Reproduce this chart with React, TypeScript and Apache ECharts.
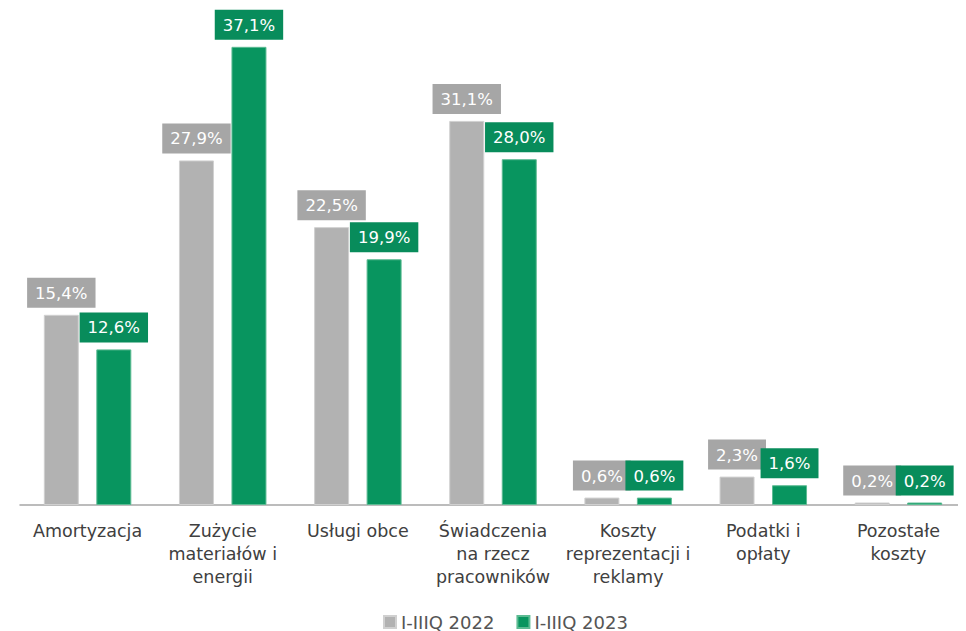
import React, { useEffect, useRef } from "react";
import * as echarts from "echarts";

const categories = [
  "Amortyzacja",
  "Zużycie\nmateriałów i\nenergii",
  "Usługi obce",
  "Świadczenia\nna rzecz\npracowników",
  "Koszty\nreprezentacji i\nreklamy",
  "Podatki i\nopłaty",
  "Pozostałe\nkoszty",
];
const series2022 = [15.4, 27.9, 22.5, 31.1, 0.6, 2.3, 0.2];
const series2023 = [12.6, 37.1, 19.9, 28.0, 0.6, 1.6, 0.2];
const seriesNames = ["I-IIIQ 2022", "I-IIIQ 2023"];

const FONT = "DejaVu Sans";

export default function App() {
  const ref = useRef<HTMLDivElement>(null);
  useEffect(() => {
    if (!ref.current) return;
    const chart = echarts.init(ref.current, null, { renderer: "svg" });
    const fmt = (p: any) => p.value.toFixed(1).replace(".", ",") + "%";
    const mkLabel = (bg: string) => ({
      show: true,
      position: "top",
      distance: 7,
      formatter: fmt,
      color: "#ffffff",
      fontFamily: FONT,
      fontSize: 16.5,
      backgroundColor: bg,
      padding: [7, 8, 6, 8],
    });
    chart.setOption({
      animation: false,
      textStyle: { fontFamily: FONT },
      grid: { left: 12, right: -8, top: 3, bottom: 126, containLabel: false },
      legend: {
        bottom: -5,
        left: 370,
        itemWidth: 12,
        itemHeight: 12,
        itemGap: 22,
        icon: "rect",
        textStyle: { fontFamily: FONT, fontSize: 18, color: "#555555" },
        data: seriesNames,
      },
      xAxis: {
        type: "category",
        data: categories,
        axisTick: { show: false },
        axisLine: { lineStyle: { color: "#a6a6a6", width: 1.5 } },
        axisLabel: {
          interval: 0,
          color: "#404040",
          fontFamily: FONT,
          fontSize: 17.5,
          lineHeight: 23,
          margin: 14,
        },
      },
      yAxis: {
        type: "value",
        min: 0,
        max: 40,
        show: false,
        splitLine: { show: false },
      },
      series: [
        {
          name: seriesNames[0],
          type: "bar",
          data: series2022,
          barWidth: 35,
          barGap: "50%",
          itemStyle: { color: "#b2b2b2", borderColor: "#d0d0d0", borderWidth: 1 },
          label: mkLabel("#a6a6a6"),
        },
        {
          name: seriesNames[1],
          type: "bar",
          data: series2023,
          barWidth: 35,
          itemStyle: { color: "#08955f", borderColor: "#5dbb93", borderWidth: 1 },
          label: mkLabel("#088c5b"),
        },
      ],
    });
    return () => chart.dispose();
  }, []);
  return <div ref={ref} style={{ width: 958, height: 623 }} />;
}
